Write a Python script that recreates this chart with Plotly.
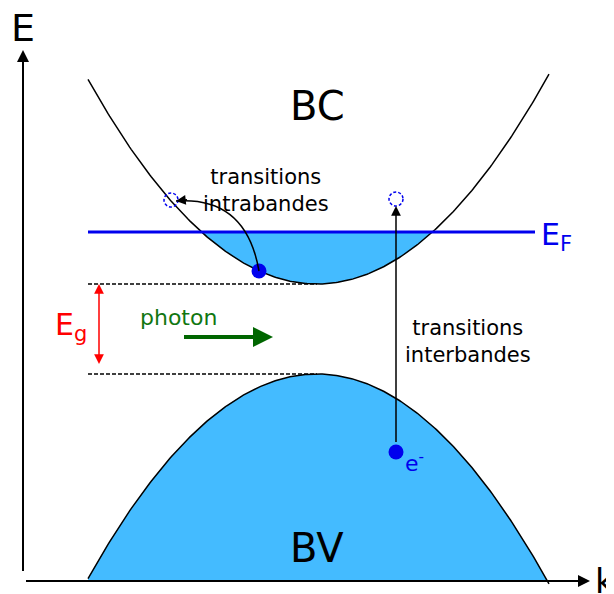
import numpy as np
import plotly.graph_objects as go

# band diagram parameters (k horizontal, E vertical, arbitrary units)
k_band = [88, 549]          # k range where the bands are drawn
k_center = 317              # k of band extrema
cb_min, cb_curv = 310, 0.0039   # conduction band bottom and curvature
vb_max, vb_curv = 220, 0.0039   # valence band top and curvature
e_fermi = 362
fermi_k = [88, 535]
k_axis, e_axis = 23, 13     # position of the E and k axes
axis_end = [590, 544]       # arrow tips of k and E axes

electrons_k = [259, 396]
electrons_E = [323, 142]
holes_k = [171, 396]
holes_E = [394, 395]

labels = ["BC", "BV"]
label_E = [488, 46]

FILL = "#44bbff"
FONT = "DejaVu Sans"

k = np.linspace(k_band[0], k_band[1], 300)
cb = cb_min + cb_curv * (k - k_center) ** 2
vb = vb_max - vb_curv * (k - k_center) ** 2

fig = go.Figure()

# valence band (filled)
fig.add_trace(go.Scatter(x=np.r_[k, k[::-1]], y=np.r_[vb, np.full(len(k), e_axis)],
                         fill="toself", fillcolor=FILL, mode="none", hoverinfo="skip"))
fig.add_trace(go.Scatter(x=k, y=vb, mode="lines", line=dict(color="black", width=1.5)))

# conduction band filled up to E_F
half = np.sqrt((e_fermi - cb_min) / cb_curv)
kf = np.linspace(k_center - half, k_center + half, 200)
fig.add_trace(go.Scatter(x=kf, y=cb_min + cb_curv * (kf - k_center) ** 2,
                         fill="toself", fillcolor=FILL, mode="none", hoverinfo="skip"))
fig.add_trace(go.Scatter(x=k, y=cb, mode="lines", line=dict(color="black", width=1.5)))

# Fermi level
fig.add_trace(go.Scatter(x=fermi_k, y=[e_fermi, e_fermi], mode="lines",
                         line=dict(color="#0000ee", width=3)))

# gap dashed lines
for e in [cb_min, vb_max]:
    fig.add_trace(go.Scatter(x=[k_band[0], k_center], y=[e, e], mode="lines",
                             line=dict(color="black", width=1.5, dash="4px,2px")))

# curved intraband transition
p0 = (electrons_k[0], electrons_E[0])
pc = (246, 398)
p1 = (holes_k[0] + 5, holes_E[0] - 1)
fig.add_shape(type="path", xref="x", yref="y",
              path=f"M {p0[0]},{p0[1]} Q {pc[0]},{pc[1]} {p1[0]},{p1[1]}",
              line=dict(color="black", width=1.5))

# empty states (dashed circles)
for hk, he in zip(holes_k, holes_E):
    fig.add_shape(type="circle", xref="x", yref="y", x0=hk - 7, x1=hk + 7, y0=he - 7, y1=he + 7,
                  line=dict(color="#0000ee", width=1.5, dash="3px,2px"))

# electrons
fig.add_trace(go.Scatter(x=electrons_k, y=electrons_E, mode="markers",
                         marker=dict(color="#0000ee", size=15, line=dict(width=0))))

fig.update_layout(showlegend=False)

def arrow(x, y, ax, ay, color="black", width=1.5, size=1.2, head=2, side="end"):
    fig.add_annotation(x=x, y=y, ax=ax, ay=ay, xref="x", yref="y", axref="x", ayref="y",
                       showarrow=True, arrowhead=head, arrowsize=size, arrowwidth=width,
                       arrowcolor=color, arrowside=side, startarrowhead=head,
                       startarrowsize=size, standoff=0, startstandoff=0, text=" ")

# axes
arrow(axis_end[0], e_axis, k_axis, e_axis, width=2, size=1.2)
arrow(k_axis, axis_end[1], k_axis, e_axis, width=2, size=1.2)

# interband transition
arrow(holes_k[1], holes_E[1] - 7, electrons_k[1], electrons_E[1], width=1.5, size=1.3)
# intraband arrow head
arrow(p1[0], p1[1], p1[0] + 14, p1[1] + 1.5, width=1.5, size=1.3)
# photon
arrow(273, 257, 181, 257, color="#006600", width=4, size=1.0)
# gap
arrow(99, cb_min, 99, vb_max, color="red", width=1.5, size=1.3, side="end+start")

def text(x, y, s, size, color="black", xanchor="center"):
    fig.add_annotation(x=x, y=y, xref="x", yref="y", text=s, showarrow=False,
                       xanchor=xanchor, yanchor="middle",
                       font=dict(family=FONT, size=size, color=color))

text(23, 566, "E", 38)
text(605, 13, "k", 34)
for lab, le in zip(labels, label_E):
    text(k_center, le, lab, 40)
text(266, 404, "transitions<br>intrabandes", 21)
text(403, 253, "transitions<br>interbandes", 21, xanchor="left")
text(178, 277, "photon", 22, color="#117711")
text(71, 268, "E<sub>g</sub>", 30, color="red")
text(539, 358, "E<sub>F</sub>", 30, color="#0000ee", xanchor="left")
text(403, 132, "e<sup>-</sup>", 22, color="#0000ee", xanchor="left")

# the page body adds an 8px margin, so the figure is 8px smaller and
# the axis ranges start 8 units in to keep the drawing in place
fig.update_layout(
    width=606, height=586, margin=dict(l=0, r=0, t=0, b=0),
    plot_bgcolor="white", paper_bgcolor="white",
    xaxis=dict(range=[8, 614], visible=False, fixedrange=True),
    yaxis=dict(range=[0, 586], visible=False, fixedrange=True),
)

fig.write_html("out.html")
